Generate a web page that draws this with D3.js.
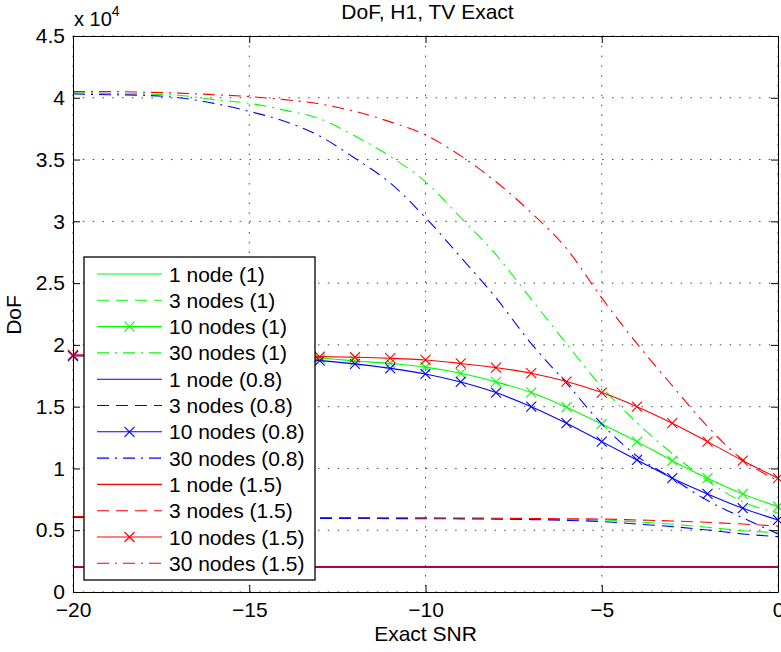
<!DOCTYPE html>
<html>
<head>
<meta charset="utf-8">
<script src="https://cdn.jsdelivr.net/npm/d3@7"></script>
<style>
  body { margin: 0; background: #fff; }
  svg { display: block; font-family: "Liberation Sans", Arial, sans-serif; }
</style>
</head>
<body>
<svg id="chart" width="781" height="652"></svg>
<script>
// Exact SNR (x axis)
const snr = [-20, -19, -18, -17, -16, -15, -14, -13, -12, -11, -10, -9, -8, -7, -6, -5, -4, -3, -2, -1, 0];

// DoF values, ratio 1 (green)
const oneNode1 = [2000, 2000, 2000, 2000, 2000, 2000, 2000, 2000, 2000, 2000, 2000, 2000, 2000, 2000, 2000, 2000, 2000, 2000, 2000, 2000, 2000];
const threeNodes1 = [6060, 6050, 6040, 6030, 6020, 6010, 6000, 5990, 5980, 5970, 5960, 5950, 5930, 5900, 5870, 5830, 5670, 5480, 5240, 4960, 4800];
const tenNodes1 = [19150, 19140, 19120, 19100, 19060, 19020, 18980, 18920, 18700, 18500, 18200, 17700, 17000, 16150, 14960, 13600, 12170, 10630, 9210, 7940, 6910];
const thirtyNodes1 = [40400, 40350, 40300, 40200, 39850, 39550, 39000, 38300, 36900, 35250, 33200, 30300, 27300, 23700, 20100, 16600, 13700, 11200, 9000, 7300, 6400];

// ratio 0.8 (blue)
const oneNode08 = [2000, 2000, 2000, 2000, 2000, 2000, 2000, 2000, 2000, 2000, 2000, 2000, 2000, 2000, 2000, 2000, 2000, 2000, 2000, 2000, 2000];
const threeNodes08 = [6030, 6020, 6010, 6000, 5990, 5980, 5970, 5960, 5950, 5940, 5930, 5920, 5900, 5860, 5800, 5700, 5500, 5290, 5020, 4700, 4480];
const tenNodes08 = [19100, 19080, 19050, 19020, 18970, 18900, 18830, 18730, 18460, 18100, 17650, 17000, 16140, 15000, 13660, 12170, 10690, 9210, 7940, 6780, 5830];
const thirtyNodes08 = [40300, 40250, 40200, 40000, 39550, 38900, 38100, 36900, 35100, 33100, 30300, 27100, 23800, 20100, 16900, 13600, 11000, 9200, 7400, 6000, 4700];

// ratio 1.5 (red)
const oneNode15 = [2000, 2000, 2000, 2000, 2000, 2000, 2000, 2000, 2000, 2000, 2000, 2000, 2000, 2000, 2000, 2000, 2000, 2000, 2000, 2000, 2000];
const threeNodes15 = [6100, 6090, 6080, 6070, 6060, 6050, 6040, 6030, 6020, 6010, 6000, 5990, 5970, 5950, 5930, 5910, 5830, 5750, 5640, 5500, 5340];
const tenNodes15 = [19200, 19200, 19180, 19160, 19130, 19100, 19080, 19050, 19000, 18920, 18780, 18500, 18160, 17710, 17030, 16140, 15000, 13660, 12170, 10630, 9210];
const thirtyNodes15 = [40500, 40500, 40450, 40380, 40250, 40100, 39850, 39500, 38900, 38050, 37000, 35300, 33200, 30700, 27800, 23800, 20100, 16700, 13400, 10700, 9000];

const xTicks = [-20, -15, -10, -5, 0];
const xTickLabels = ['\u221220', '\u221215', '\u221210', '\u22125', '0'];
const yTicks = [0, 5000, 10000, 15000, 20000, 25000, 30000, 35000, 40000, 45000];
const yTickLabels = ['0', '0.5', '1', '1.5', '2', '2.5', '3', '3.5', '4', '4.5'];

const GREEN = '#00ff00', BLUE = '#0000ff', RED = '#ff0000';
const DASH = '12,7', DASHDOT = '12,6,2,6';

const series = [
  { label: '1 node (1)', values: oneNode1, color: GREEN, dash: null, marker: false, flat: true },
  { label: '3 nodes (1)', values: threeNodes1, color: GREEN, dash: DASH, marker: false },
  { label: '10 nodes (1)', values: tenNodes1, color: GREEN, dash: null, marker: true },
  { label: '30 nodes (1)', values: thirtyNodes1, color: GREEN, dash: DASHDOT, marker: false },
  { label: '1 node (0.8)', values: oneNode08, color: BLUE, dash: null, marker: false, flat: true },
  { label: '3 nodes (0.8)', values: threeNodes08, color: BLUE, dash: DASH, marker: false },
  { label: '10 nodes (0.8)', values: tenNodes08, color: BLUE, dash: null, marker: true },
  { label: '30 nodes (0.8)', values: thirtyNodes08, color: BLUE, dash: DASHDOT, marker: false },
  { label: '1 node (1.5)', values: oneNode15, color: RED, dash: null, marker: false, flat: true, opacity: 0.67 },
  { label: '3 nodes (1.5)', values: threeNodes15, color: RED, dash: DASH, marker: false },
  { label: '10 nodes (1.5)', values: tenNodes15, color: RED, dash: null, marker: true },
  { label: '30 nodes (1.5)', values: thirtyNodes15, color: RED, dash: DASHDOT, marker: false }
];

const width = 781, height = 652;
const margin = { top: 36, right: 3, bottom: 60, left: 73 };
const innerWidth = width - margin.left - margin.right;
const innerHeight = height - margin.top - margin.bottom;
const fontSize = 21;

const svg = d3.select('#chart');
const g = svg.append('g').attr('transform', `translate(${margin.left},${margin.top})`);

const xScale = d3.scaleLinear().domain([-20, 0]).range([0, innerWidth]);
const yScale = d3.scaleLinear().domain([0, 45000]).range([innerHeight, 0]);

// grid
g.append('g').selectAll('line').data(xTicks).enter().append('line')
  .attr('x1', d => xScale(d)).attr('x2', d => xScale(d))
  .attr('y1', 0).attr('y2', innerHeight)
  .attr('stroke', '#444').attr('stroke-width', 1).attr('stroke-dasharray', '1.5,8.3');
g.append('g').selectAll('line').data(yTicks).enter().append('line')
  .attr('x1', 0).attr('x2', innerWidth)
  .attr('y1', d => yScale(d)).attr('y2', d => yScale(d))
  .attr('stroke', '#444').attr('stroke-width', 1).attr('stroke-dasharray', '1.5,8.3');

// lines
const line = d3.line().x((d, i) => xScale(snr[i])).y(d => yScale(d)).curve(d3.curveMonotoneX);

series.forEach(s => {
  const p = g.append('path')
    .datum(s.values)
    .attr('fill', 'none')
    .attr('stroke', s.color)
    .attr('stroke-width', s.flat ? 2 : 1.1)
    .attr('stroke-opacity', s.opacity || 1)
    .attr('stroke-dasharray', s.dash)
    .attr('d', line);
  if (s.flat) p.attr('shape-rendering', 'crispEdges');
  if (s.marker) {
    g.append('g').selectAll('path').data(s.values).enter().append('path')
      .attr('transform', (d, i) => `translate(${xScale(snr[i])},${yScale(d)})`)
      .attr('d', 'M-5,-5L5,5M-5,5L5,-5')
      .attr('stroke', s.color).attr('stroke-width', 1.1).attr('fill', 'none');
  }
});

// axes (MATLAB box with inward ticks)
const styleAxis = sel => {
  sel.selectAll('path.domain').attr('stroke', '#000').attr('stroke-width', 1);
  sel.selectAll('.tick line').attr('stroke', '#000');
  sel.selectAll('text').attr('font-size', fontSize).attr('fill', '#000')
    .style('font-family', '"Liberation Sans", Arial, sans-serif');
};

g.append('g').attr('transform', `translate(0,${innerHeight})`)
  .call(d3.axisBottom(xScale).tickValues(xTicks).tickFormat((d, i) => xTickLabels[i])
    .tickSizeInner(-7).tickSizeOuter(0).tickPadding(10))
  .call(styleAxis);
g.append('g')
  .call(d3.axisTop(xScale).tickValues(xTicks).tickFormat('').tickSizeInner(-7).tickSizeOuter(0))
  .call(styleAxis);
g.append('g')
  .call(d3.axisLeft(yScale).tickValues(yTicks).tickFormat((d, i) => yTickLabels[i])
    .tickSizeInner(-7).tickSizeOuter(0).tickPadding(8))
  .call(styleAxis);
g.append('g').attr('transform', `translate(${innerWidth},0)`)
  .call(d3.axisRight(yScale).tickValues(yTicks).tickFormat('').tickSizeInner(-7).tickSizeOuter(0))
  .call(styleAxis);

// exponent label
const expo = svg.append('text').attr('x', 74).attr('y', 26).attr('font-size', 20);
expo.append('tspan').text('x 10');
expo.append('tspan').attr('font-size', 14).attr('dy', -10).text('4');

// title and axis labels
svg.append('text').attr('x', margin.left + innerWidth / 2 + 2).attr('y', 19)
  .attr('text-anchor', 'middle').attr('font-size', fontSize).text('DoF, H1, TV Exact');
svg.append('text').attr('x', margin.left + innerWidth / 2).attr('y', 641)
  .attr('text-anchor', 'middle').attr('font-size', fontSize).text('Exact SNR');
svg.append('text').attr('transform', 'translate(21,315) rotate(-90)')
  .attr('text-anchor', 'middle').attr('font-size', fontSize).text('DoF');

// legend
const legend = svg.append('g').attr('transform', 'translate(84,257)');
legend.append('rect').attr('width', 231).attr('height', 323)
  .attr('fill', '#fff').attr('stroke', '#000').attr('stroke-width', 1.3);
const rowH = 26.3;
series.forEach((s, i) => {
  const y = 17 + i * rowH;
  legend.append('line').attr('x1', 13).attr('x2', 78).attr('y1', y).attr('y2', y)
    .attr('stroke', s.color).attr('stroke-width', 1.1).attr('stroke-dasharray', s.dash);
  if (s.marker) {
    legend.append('path').attr('transform', `translate(45.5,${y})`)
      .attr('d', 'M-5,-5L5,5M-5,5L5,-5').attr('stroke', s.color).attr('stroke-width', 1.1);
  }
  legend.append('text').attr('x', 85).attr('y', y + 7.5).attr('font-size', fontSize).text(s.label);
});
</script>
</body>
</html>
